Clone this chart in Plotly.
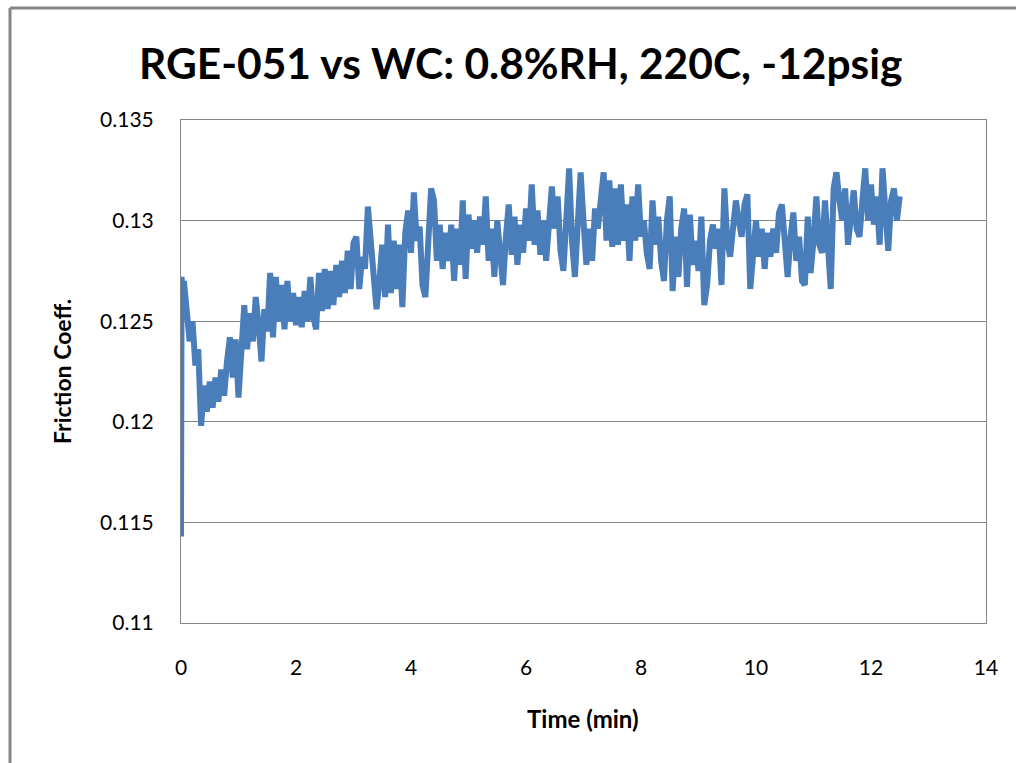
import plotly.graph_objects as go

time_min = [0.0, 0.01, 0.03,
    0.05, 0.10, 0.15, 0.20, 0.25, 0.30, 0.35, 0.40, 0.45, 0.50,
    0.55, 0.60, 0.65, 0.70, 0.75, 0.80, 0.85, 0.90, 0.95, 1.00,
    1.05, 1.10, 1.15, 1.20, 1.25, 1.30, 1.35, 1.40, 1.45, 1.50,
    1.55, 1.60, 1.65, 1.70, 1.75, 1.80, 1.85, 1.90, 1.95, 2.00,
    2.05, 2.10, 2.15, 2.20, 2.25, 2.30, 2.35, 2.40, 2.45, 2.50,
    2.55, 2.60, 2.65, 2.70, 2.75, 2.80, 2.85, 2.90, 2.95, 3.00,
    3.05, 3.10, 3.15, 3.20, 3.25, 3.30, 3.35, 3.40, 3.45, 3.50,
    3.55, 3.60, 3.65, 3.70, 3.75, 3.80, 3.85, 3.90, 3.95, 4.00,
    4.05, 4.10, 4.15, 4.20, 4.25, 4.30, 4.35, 4.40, 4.45, 4.50,
    4.55, 4.60, 4.65, 4.70, 4.75, 4.80, 4.85, 4.90, 4.95, 5.00,
    5.05, 5.10, 5.15, 5.20, 5.25, 5.30, 5.35, 5.40, 5.45, 5.50,
    5.55, 5.60, 5.65, 5.70, 5.75, 5.80, 5.85, 5.90, 5.95, 6.00,
    6.05, 6.10, 6.15, 6.20, 6.25, 6.30, 6.35, 6.40, 6.45, 6.50,
    6.55, 6.60, 6.65, 6.70, 6.75, 6.80, 6.85, 6.90, 6.95, 7.00,
    7.05, 7.10, 7.15, 7.20, 7.25, 7.30, 7.35, 7.40, 7.45, 7.50,
    7.55, 7.60, 7.65, 7.70, 7.75, 7.80, 7.85, 7.90, 7.95, 8.00,
    8.05, 8.10, 8.15, 8.20, 8.25, 8.30, 8.35, 8.40, 8.45, 8.50,
    8.55, 8.60, 8.65, 8.70, 8.75, 8.80, 8.85, 8.90, 8.95, 9.00,
    9.05, 9.10, 9.15, 9.20, 9.25, 9.30, 9.35, 9.40, 9.45, 9.50,
    9.55, 9.60, 9.65, 9.70, 9.75, 9.80, 9.85, 9.90, 9.95, 10.00,
    10.05, 10.10, 10.15, 10.20, 10.25, 10.30, 10.35, 10.40, 10.45, 10.50,
    10.55, 10.60, 10.65, 10.70, 10.75, 10.80, 10.85, 10.90, 10.95, 11.00,
    11.05, 11.10, 11.15, 11.20, 11.25, 11.30, 11.35, 11.40, 11.45, 11.50,
    11.55, 11.60, 11.65, 11.70, 11.75, 11.80, 11.85, 11.90, 11.95, 12.00,
    12.05, 12.10, 12.15, 12.20, 12.25, 12.30, 12.35, 12.40, 12.45, 12.50]

friction_coeff = [0.1143, 0.1272, 0.1262,
    0.1270, 0.1258, 0.1240, 0.1250, 0.1228, 0.1236, 0.1198, 0.1218, 0.1205, 0.1220,
    0.1207, 0.1222, 0.1210, 0.1226, 0.1213, 0.1230, 0.1242, 0.1222, 0.1241, 0.1212,
    0.1232, 0.1258, 0.1236, 0.1254, 0.1240, 0.1262, 0.1248, 0.1230, 0.1256, 0.1245,
    0.1274, 0.1242, 0.1272, 0.1250, 0.1268, 0.1246, 0.1270, 0.1250, 0.1264, 0.1248,
    0.1262, 0.1247, 0.1265, 0.1250, 0.1272, 0.1252, 0.1246, 0.1274, 0.1255, 0.1276,
    0.1256, 0.1275, 0.1258, 0.1278, 0.1262, 0.1280, 0.1264, 0.1285, 0.1266, 0.1289,
    0.1292, 0.1266, 0.1282, 0.1276, 0.1307, 0.1290, 0.1272, 0.1256, 0.1270, 0.1288,
    0.1262, 0.1298, 0.1264, 0.1290, 0.1266, 0.1288, 0.1257, 0.1294, 0.1305, 0.1284,
    0.1314, 0.1290, 0.1297, 0.1268, 0.1262, 0.1290, 0.1316, 0.1310, 0.1280, 0.1298,
    0.1276, 0.1294, 0.1280, 0.1298, 0.1270, 0.1296, 0.1278, 0.1310, 0.1271, 0.1303,
    0.1286, 0.1300, 0.1284, 0.1302, 0.1288, 0.1312, 0.1280, 0.1296, 0.1272, 0.1300,
    0.1282, 0.1268, 0.1292, 0.1308, 0.1283, 0.1302, 0.1278, 0.1298, 0.1284, 0.1306,
    0.1290, 0.1318, 0.1288, 0.1305, 0.1283, 0.1300, 0.1280, 0.1296, 0.1317, 0.1296,
    0.1312, 0.1285, 0.1275, 0.1300, 0.1326, 0.1290, 0.1272, 0.1298, 0.1324, 0.1300,
    0.1278, 0.1296, 0.1280, 0.1306, 0.1296, 0.1310, 0.1324, 0.1290, 0.1320, 0.1287,
    0.1316, 0.1288, 0.1318, 0.1290, 0.1308, 0.1280, 0.1312, 0.1290, 0.1318, 0.1292,
    0.1300, 0.1284, 0.1276, 0.1310, 0.1288, 0.1302, 0.1280, 0.1270, 0.1300, 0.1312,
    0.1265, 0.1292, 0.1272, 0.1296, 0.1306, 0.1267, 0.1303, 0.1278, 0.1290, 0.1275,
    0.1302, 0.1258, 0.1268, 0.1290, 0.1298, 0.1286, 0.1296, 0.1268, 0.1316, 0.1290,
    0.1282, 0.1296, 0.1310, 0.1300, 0.1292, 0.1308, 0.1313, 0.1266, 0.1280, 0.1300,
    0.1282, 0.1296, 0.1276, 0.1294, 0.1282, 0.1296, 0.1284, 0.1304, 0.1308, 0.1286,
    0.1272, 0.1292, 0.1304, 0.1280, 0.1292, 0.1270, 0.1268, 0.1302, 0.1274, 0.1290,
    0.1312, 0.1288, 0.1284, 0.1310, 0.1292, 0.1266, 0.1316, 0.1324, 0.1310, 0.1300,
    0.1316, 0.1288, 0.1302, 0.1315, 0.1296, 0.1292, 0.1310, 0.1326, 0.1300, 0.1318,
    0.1298, 0.1312, 0.1288, 0.1326, 0.1305, 0.1285, 0.1310, 0.1316, 0.1300, 0.1312]

x_ticks = [0, 2, 4, 6, 8, 10, 12, 14]
y_ticks = [0.11, 0.115, 0.12, 0.125, 0.13, 0.135]
y_tick_labels = ["0.11", "0.115", "0.12", "0.125", "0.13", "0.135"]

title_text = "RGE-051 vs WC: 0.8%RH, 220C, -12psig"
x_title = "Time (min)"
y_title = "Friction Coeff."

W, H = 1016, 763
L, R, T, B = 181, 30, 120, 140
pw, ph = W - L - R, H - T - B

def px_x(x):
    return (x - L) / pw

def px_y(y):
    return (H - B - y) / ph

grid = "#868686"
font_family = "Lato, 'Open Sans', sans-serif"

fig = go.Figure()
fig.add_trace(go.Scatter(
    x=time_min, y=friction_coeff, mode="lines",
    line=dict(color="#4a7ebb", width=6),
    showlegend=False,
))

frame = dict(color="#868686", width=3)
fig.update_layout(
    width=W, height=H,
    margin=dict(l=L, r=R, t=T, b=B, pad=0),
    paper_bgcolor="white", plot_bgcolor="white",
    font=dict(family=font_family, color="black"),
    xaxis=dict(
        range=[0, 14], tickvals=x_ticks, showgrid=False, zeroline=False,
        showline=True, linecolor=grid, linewidth=1, mirror=True,
        ticks="", tickfont=dict(size=21), ticklabelstandoff=26,
    ),
    yaxis=dict(
        range=[0.11, 0.135], tickvals=y_ticks, ticktext=y_tick_labels,
        showgrid=True, gridcolor=grid, gridwidth=1, zeroline=False,
        showline=True, linecolor=grid, linewidth=1, mirror=True,
        ticks="", tickfont=dict(size=21), ticklabelstandoff=22,
    ),
    shapes=[
        dict(type="line", xref="paper", yref="paper",
             x0=px_x(10), x1=px_x(10), y0=px_y(770), y1=px_y(8),
             line=frame, layer="below"),
        dict(type="line", xref="paper", yref="paper",
             x0=px_x(10), x1=px_x(1016), y0=px_y(8), y1=px_y(8),
             line=frame, layer="below"),
    ],
    annotations=[
        dict(text="<b>" + title_text + "</b>", xref="paper", yref="paper",
             x=px_x(521), y=px_y(62), xanchor="center", yanchor="middle",
             showarrow=False, font=dict(size=42.5, family=font_family)),
        dict(text="<b>" + x_title + "</b>", xref="paper", yref="paper",
             x=px_x(583), y=px_y(718), xanchor="center", yanchor="middle",
             showarrow=False, font=dict(size=24, family=font_family)),
        dict(text="<b>" + y_title + "</b>", xref="paper", yref="paper",
             x=px_x(62), y=px_y(372), xanchor="center", yanchor="middle",
             textangle=-90, showarrow=False, font=dict(size=23, family=font_family)),
    ],
)

fig.write_html("out.html")
